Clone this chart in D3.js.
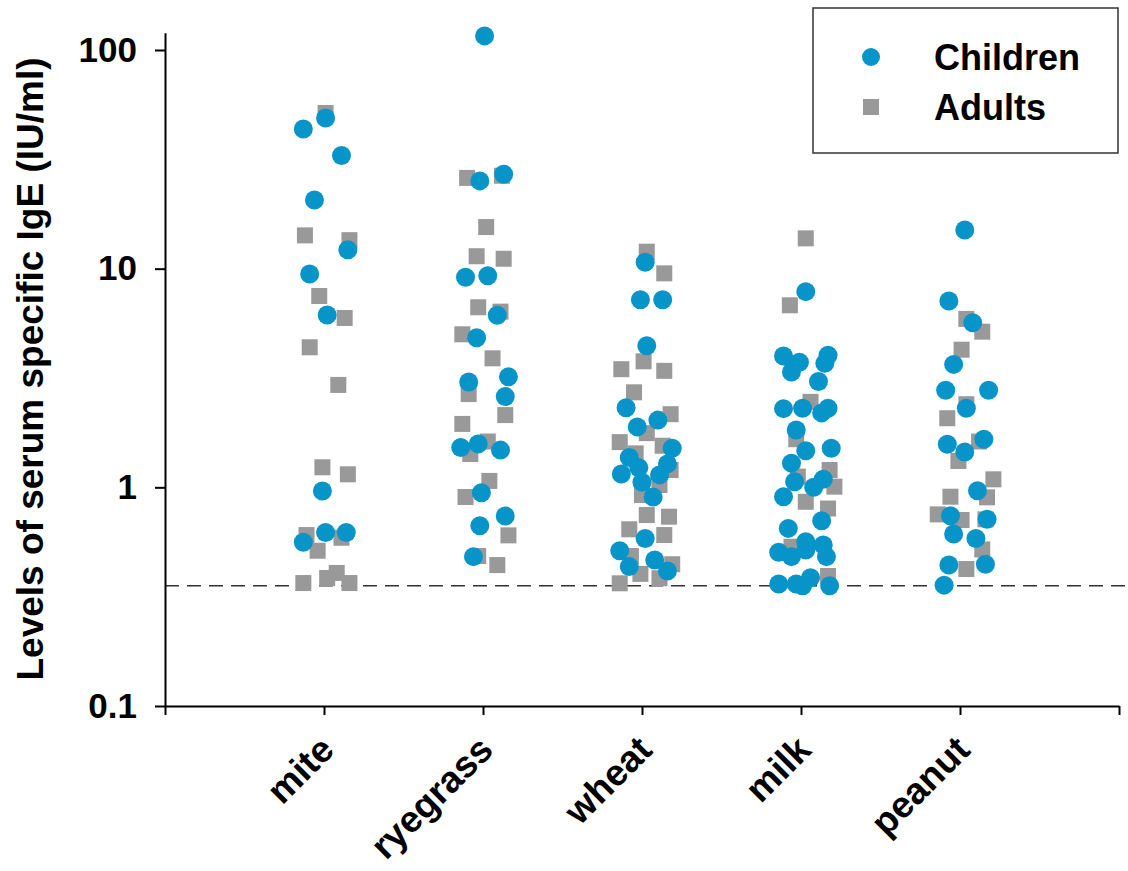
<!DOCTYPE html>
<meta charset="utf-8">
<style>
body { margin: 0; background: #fff; }
text { font-family: "Liberation Sans", Arial, sans-serif; font-weight: bold; fill: #000; }
.axis path, .axis line { stroke: #000; stroke-width: 2px; }
.axis text { font-size: 35px; font-family: "Liberation Sans", Arial, sans-serif; font-weight: bold; }
.child { fill: #0795c9; }
.adult { fill: #999999; }
.cutoff { stroke: #333; stroke-width: 1.5px; stroke-dasharray: 14,8; }
</style>
<svg width="1128" height="871"></svg>
<script src="https://d3js.org/d3.v7.min.js"></script>
<script>
var categories = ["mite", "ryegrass", "wheat", "milk", "peanut"];
var yTicks = [0.1, 1, 10, 100];
var cutoff = 0.355;

// children: IgE values and horizontal jitter (category units) per allergen
var childValues = [
  [48.9, 43.5, 32.9, 20.6, 12.2, 9.46, 6.14, 0.962, 0.622, 0.622, 0.561],
  [116, 25.2, 27.0, 9.13, 9.29, 6.12, 4.83, 3.20, 3.03, 2.60, 1.58, 1.52, 1.48, 0.945, 0.739, 0.667, 0.482],
  [10.69, 7.21, 7.21, 4.44, 2.31, 2.03, 1.89, 1.51, 1.37, 1.28, 1.23, 1.15, 1.14, 1.054, 0.903, 0.584, 0.513, 0.465, 0.434, 0.414],
  [7.85, 3.99, 3.73, 4.02, 3.69, 3.37, 3.05, 2.29, 2.30, 2.30, 2.19, 1.83, 1.47, 1.51, 1.29, 1.088, 1.061, 1.0, 0.906, 0.704, 0.649, 0.564, 0.545, 0.517, 0.505, 0.482, 0.482, 0.386, 0.361, 0.361, 0.355, 0.355],
  [15.03, 7.11, 5.66, 3.65, 2.78, 2.78, 2.30, 1.573, 1.66, 1.45, 0.965, 0.742, 0.714, 0.612, 0.584, 0.441, 0.445, 0.357]
];
var childJitter = [
  [0.01, -0.13, 0.11, -0.06, 0.15, -0.09, 0.02, -0.01, 0.01, 0.14, -0.13],
  [0.01, -0.02, 0.13, -0.11, 0.03, 0.09, -0.04, 0.16, -0.09, 0.14, -0.03, -0.14, 0.11, -0.01, 0.14, -0.02, -0.06],
  [0.02, -0.01, 0.13, 0.03, -0.10, 0.10, -0.03, 0.19, -0.08, 0.16, -0.02, -0.13, 0.11, 0.00, 0.07, 0.02, -0.14, 0.08, -0.08, 0.16],
  [0.03, -0.11, -0.01, 0.17, 0.15, -0.06, 0.11, -0.11, 0.01, 0.17, 0.13, -0.03, 0.03, 0.19, -0.06, 0.14, -0.04, 0.08, -0.11, 0.13, -0.08, 0.03, 0.14, 0.03, -0.14, -0.06, 0.16, 0.06, -0.14, -0.03, 0.01, 0.18],
  [0.03, -0.07, 0.08, -0.04, -0.09, 0.18, 0.04, -0.08, 0.15, 0.03, 0.11, -0.06, 0.17, -0.04, 0.10, -0.07, 0.16, -0.10]
];

// adults
var adultValues = [
  [51.5, 14.2, 13.5, 7.5, 5.95, 4.37, 2.94, 1.235, 1.147, 0.605, 0.588, 0.513, 0.406, 0.385, 0.365, 0.365],
  [26.0, 26.6, 15.5, 11.4, 11.1, 6.66, 6.36, 5.01, 3.89, 2.67, 2.14, 1.95, 1.62, 1.42, 1.07, 0.903, 0.603, 0.485, 0.441],
  [11.96, 9.52, 3.77, 3.47, 3.41, 2.72, 2.16, 1.77, 1.61, 1.55, 1.43, 1.20, 1.025, 0.922, 0.747, 0.734, 0.643, 0.605, 0.485, 0.445, 0.402, 0.384, 0.364],
  [13.76, 6.80, 2.46, 1.66, 1.20, 1.12, 1.007, 0.859, 0.80, 0.535, 0.393],
  [5.89, 5.15, 4.26, 2.40, 2.07, 1.62, 1.32, 1.088, 0.900, 0.906, 0.752, 0.709, 0.714, 0.520, 0.423]
];
var adultJitter = [
  [0.01, -0.12, 0.16, -0.03, 0.13, -0.09, 0.09, -0.01, 0.15, -0.11, 0.11, -0.04, 0.08, 0.02, -0.13, 0.16],
  [-0.10, 0.12, 0.02, -0.04, 0.13, -0.03, 0.11, -0.13, 0.06, -0.09, 0.14, -0.13, 0.03, -0.08, 0.04, -0.11, 0.16, -0.03, 0.09],
  [0.03, 0.14, 0.01, -0.13, 0.14, -0.05, 0.18, 0.03, -0.14, 0.13, -0.04, 0.18, 0.11, 0.00, 0.03, 0.17, -0.08, 0.14, -0.07, 0.19, -0.01, 0.11, -0.14],
  [0.03, -0.07, 0.06, -0.03, 0.18, -0.02, 0.21, 0.03, 0.17, -0.06, 0.17],
  [0.04, 0.14, 0.01, 0.04, -0.08, 0.12, -0.01, 0.21, 0.17, -0.06, -0.14, 0.01, 0.16, 0.14, 0.04]
];

var svg = d3.select("svg");

var x = d3.scaleLinear().domain([0, categories.length + 1]).range([165, 1119]);
var decade = 656 / 3;
var y = d3.scaleLog().domain([0.1, 120]).range([706, 706 - decade * Math.log10(1200)]);

function flatten(values, jitter) {
  var out = [];
  values.forEach(function(list, i) {
    list.forEach(function(v, j) {
      out.push({cat: i + 1, jit: jitter[i][j], value: v});
    });
  });
  return out;
}
var children = flatten(childValues, childJitter);
var adults = flatten(adultValues, adultJitter);

// cutoff line
svg.append("line")
    .attr("class", "cutoff")
    .attr("x1", x(0)).attr("x2", 1125)
    .attr("y1", y(cutoff)).attr("y2", y(cutoff));

// x axis
svg.append("g")
    .attr("class", "axis axis--x")
    .attr("transform", "translate(0," + y(0.1) + ")")
    .call(d3.axisBottom(x).tickValues(d3.range(0, categories.length + 2)).tickSize(9).tickSizeOuter(0).tickFormat(""));

// y axis
svg.append("g")
    .attr("class", "axis axis--y")
    .attr("transform", "translate(" + x(0) + ",0)")
    .call(d3.axisLeft(y).tickValues(yTicks).tickSize(10).tickSizeOuter(0).tickPadding(18).tickFormat(d3.format("~g")));

// category labels
svg.selectAll(".cat")
  .data(categories)
  .enter().append("text")
    .attr("class", "cat")
    .attr("text-anchor", "end")
    .attr("font-size", 37)
    .attr("transform", function(d, i) { return "translate(" + (x(i + 1) + 12) + ",752) rotate(-45)"; })
    .text(function(d) { return d; });

// y label
svg.append("text")
    .attr("text-anchor", "middle")
    .attr("font-size", 37)
    .attr("transform", "translate(43,369) rotate(-90)")
    .text("Levels of serum specific IgE (IU/ml)");

// points: adults first, children on top
var sq = 16;
svg.selectAll(".adult")
  .data(adults)
  .enter().append("rect")
    .attr("class", "adult")
    .attr("x", function(d) { return x(d.cat + d.jit) - sq / 2; })
    .attr("y", function(d) { return y(d.value) - sq / 2; })
    .attr("width", sq)
    .attr("height", sq);

svg.selectAll(".child")
  .data(children)
  .enter().append("circle")
    .attr("class", "child")
    .attr("cx", function(d) { return x(d.cat + d.jit); })
    .attr("cy", function(d) { return y(d.value); })
    .attr("r", 9.5);

// legend
var legend = svg.append("g");
legend.append("rect")
    .attr("x", 813).attr("y", 8)
    .attr("width", 305).attr("height", 145)
    .attr("fill", "#fff")
    .attr("stroke", "#333")
    .attr("stroke-width", 1.5);
legend.append("circle")
    .attr("class", "child")
    .attr("cx", 871).attr("cy", 57).attr("r", 9);
legend.append("rect")
    .attr("class", "adult")
    .attr("x", 871 - 8).attr("y", 107 - 8).attr("width", 16).attr("height", 16);
legend.append("text")
    .attr("x", 934).attr("y", 70)
    .attr("font-size", 36)
    .text("Children");
legend.append("text")
    .attr("x", 934).attr("y", 120)
    .attr("font-size", 36)
    .text("Adults");
</script>
